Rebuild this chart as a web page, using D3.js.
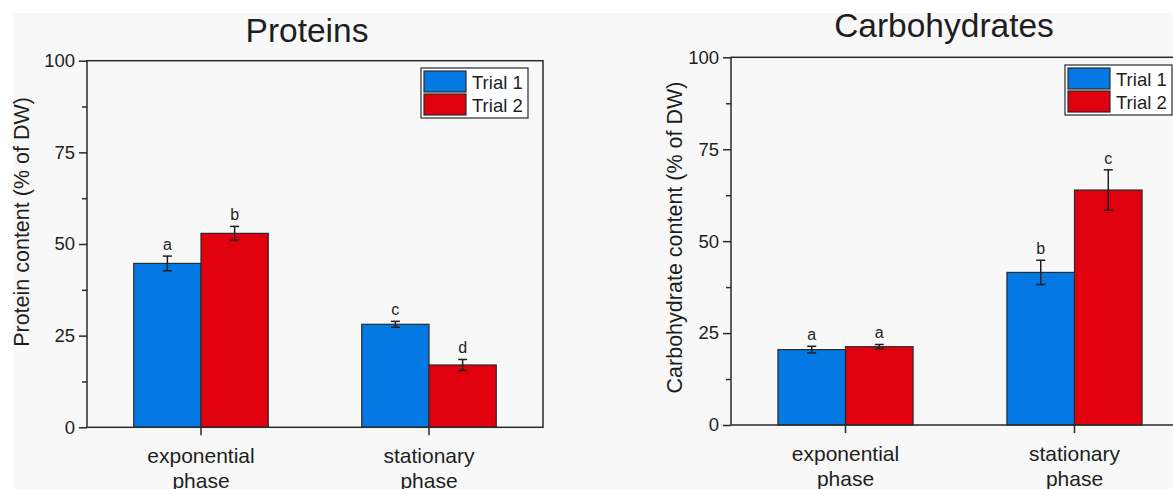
<!DOCTYPE html>
<html>
<head>
<meta charset="utf-8">
<script src="https://cdn.jsdelivr.net/npm/d3@7"></script>
<style>
  html, body { margin: 0; padding: 0; background: #ffffff; }
  svg { display: block; font-family: "Liberation Sans", Arial, sans-serif; }
  text { fill: #1e1e1e; }
</style>
</head>
<body>
<svg id="chart" width="1173" height="489"></svg>
<script>
// values
const phases = ["exponential|phase", "stationary|phase"];
const trials = ["Trial 1", "Trial 2"];
const trialColours = ["#0479e3", "#e0000e"];
const yTicks = [0, 25, 50, 75, 100];
const yMinorTicks = [12.5, 37.5, 62.5, 87.5];

const proteinTrial1 = [44.7, 28.1];
const proteinTrial2 = [52.9, 17.0];
const proteinErr1 = [2.0, 0.8];
const proteinErr2 = [1.9, 1.5];
const proteinLetters1 = ["a", "c"];
const proteinLetters2 = ["b", "d"];

const carbTrial1 = [20.5, 41.5];
const carbTrial2 = [21.3, 63.9];
const carbErr1 = [0.9, 3.3];
const carbErr2 = [0.6, 5.5];
const carbLetters1 = ["a", "b"];
const carbLetters2 = ["a", "c"];

const svg = d3.select("#chart");

svg.append("rect")
  .attr("x", 13).attr("y", 13)
  .attr("width", 1173 - 13).attr("height", 489 - 13)
  .attr("fill", "#f8f8f8");

function drawPanel(p) {
  const g = svg.append("g");
  const w = p.right - p.left;

  const x = d3.scaleBand().domain(phases).range([p.left, p.right]).padding(0);
  const y = d3.scaleLinear().domain([0, 100]).range([p.bottom, p.top]);
  const barW = x.bandwidth() * 0.295;

  // bars
  const rows = [];
  phases.forEach((ph, i) => {
    rows.push({ ph: ph, t: 0, v: p.t1[i], e: p.e1[i], l: p.l1[i] });
    rows.push({ ph: ph, t: 1, v: p.t2[i], e: p.e2[i], l: p.l2[i] });
  });
  const cx = d => x(d.ph) + x.bandwidth() / 2 + (d.t === 0 ? -barW : 0);

  g.selectAll(".bar").data(rows).enter().append("rect")
    .attr("x", cx)
    .attr("y", d => y(d.v))
    .attr("width", barW)
    .attr("height", d => y(0) - y(d.v))
    .attr("fill", d => trialColours[d.t])
    .attr("stroke", "#2a2a2a")
    .attr("stroke-width", 1.2);

  // error bars
  const eb = g.selectAll(".err").data(rows).enter().append("g")
    .attr("stroke", "#1e1e1e").attr("stroke-width", 1.5);
  eb.append("line")
    .attr("x1", d => cx(d) + barW / 2).attr("x2", d => cx(d) + barW / 2)
    .attr("y1", d => y(d.v + d.e)).attr("y2", d => y(d.v - d.e));
  eb.append("line")
    .attr("x1", d => cx(d) + barW / 2 - 4.5).attr("x2", d => cx(d) + barW / 2 + 4.5)
    .attr("y1", d => y(d.v + d.e)).attr("y2", d => y(d.v + d.e));
  eb.append("line")
    .attr("x1", d => cx(d) + barW / 2 - 4.5).attr("x2", d => cx(d) + barW / 2 + 4.5)
    .attr("y1", d => y(d.v - d.e)).attr("y2", d => y(d.v - d.e));

  // significance letters
  g.selectAll(".letter").data(rows).enter().append("text")
    .attr("x", d => cx(d) + barW / 2)
    .attr("y", d => y(d.v + d.e) - 6)
    .attr("text-anchor", "middle")
    .attr("font-size", 16)
    .text(d => d.l);

  // frame
  g.append("rect")
    .attr("x", p.left).attr("y", p.top)
    .attr("width", w).attr("height", p.bottom - p.top)
    .attr("fill", "none").attr("stroke", "#2a2a2a").attr("stroke-width", 1.5);

  // y axis
  const yAxis = g.append("g")
    .attr("transform", `translate(${p.left},0)`)
    .call(d3.axisLeft(y).tickValues(yTicks).tickSize(8).tickPadding(4).tickFormat(d3.format("d")));
  yAxis.select(".domain").remove();
  yAxis.selectAll("line").attr("stroke", "#2a2a2a").attr("stroke-width", 1.5);
  yAxis.selectAll("text").attr("font-size", 18.5).attr("fill", "#1e1e1e")
    .attr("font-family", "Liberation Sans, Arial, sans-serif");

  const yMinor = g.append("g")
    .attr("transform", `translate(${p.left},0)`)
    .call(d3.axisLeft(y).tickValues(yMinorTicks).tickSize(5).tickFormat(""));
  yMinor.select(".domain").remove();
  yMinor.selectAll("line").attr("stroke", "#2a2a2a").attr("stroke-width", 1.5);

  // x axis
  const xAxis = g.append("g")
    .attr("transform", `translate(0,${p.bottom})`)
    .call(d3.axisBottom(x).tickSize(8).tickFormat(""));
  xAxis.select(".domain").remove();
  xAxis.selectAll("line").attr("stroke", "#2a2a2a").attr("stroke-width", 1.5);

  const xl = g.selectAll(".xlab").data(phases).enter().append("text")
    .attr("x", d => x(d) + x.bandwidth() / 2)
    .attr("y", p.bottom + 36)
    .attr("text-anchor", "middle")
    .attr("font-size", 21);
  xl.selectAll("tspan").data(d => d.split("|")).enter().append("tspan")
    .attr("x", function () { return d3.select(this.parentNode).attr("x"); })
    .attr("dy", (d, i) => i === 0 ? 0 : 25)
    .text(d => d);

  // y label
  g.append("text")
    .attr("transform", `translate(${p.ylabX},${p.ylabY}) rotate(-90)`)
    .attr("text-anchor", "middle")
    .attr("font-size", 21.5)
    .text(p.ylabel);

  // title
  g.append("text")
    .attr("x", p.titleX).attr("y", p.titleY)
    .attr("text-anchor", "middle")
    .attr("font-size", 33.5)
    .text(p.title);

  // legend
  const lg = g.append("g").attr("transform", `translate(${p.legX},${p.legY})`);
  lg.append("rect")
    .attr("x", 0).attr("y", 0).attr("width", 107).attr("height", 50)
    .attr("fill", "#ffffff").attr("stroke", "#2a2a2a").attr("stroke-width", 1.2);
  trials.forEach((t, i) => {
    lg.append("rect")
      .attr("x", 3).attr("y", 3 + i * 23).attr("width", 42).attr("height", 21)
      .attr("fill", trialColours[i]).attr("stroke", "#2a2a2a").attr("stroke-width", 1.2);
    lg.append("text")
      .attr("x", 51).attr("y", 20.5 + i * 23)
      .attr("font-size", 18.5)
      .text(t);
  });
}

drawPanel({
  left: 87, right: 543, top: 60.7, bottom: 427.3,
  t1: proteinTrial1, t2: proteinTrial2, e1: proteinErr1, e2: proteinErr2,
  l1: proteinLetters1, l2: proteinLetters2,
  title: "Proteins", titleX: 307, titleY: 42,
  ylabel: "Protein content (% of DW)", ylabX: 29, ylabY: 222,
  legX: 421, legY: 68
});

drawPanel({
  left: 731, right: 1189, top: 57.3, bottom: 425,
  t1: carbTrial1, t2: carbTrial2, e1: carbErr1, e2: carbErr2,
  l1: carbLetters1, l2: carbLetters2,
  title: "Carbohydrates", titleX: 944, titleY: 37,
  ylabel: "Carbohydrate content (% of DW)", ylabX: 682, ylabY: 237.5,
  legX: 1065, legY: 65
});
</script>
</body>
</html>
